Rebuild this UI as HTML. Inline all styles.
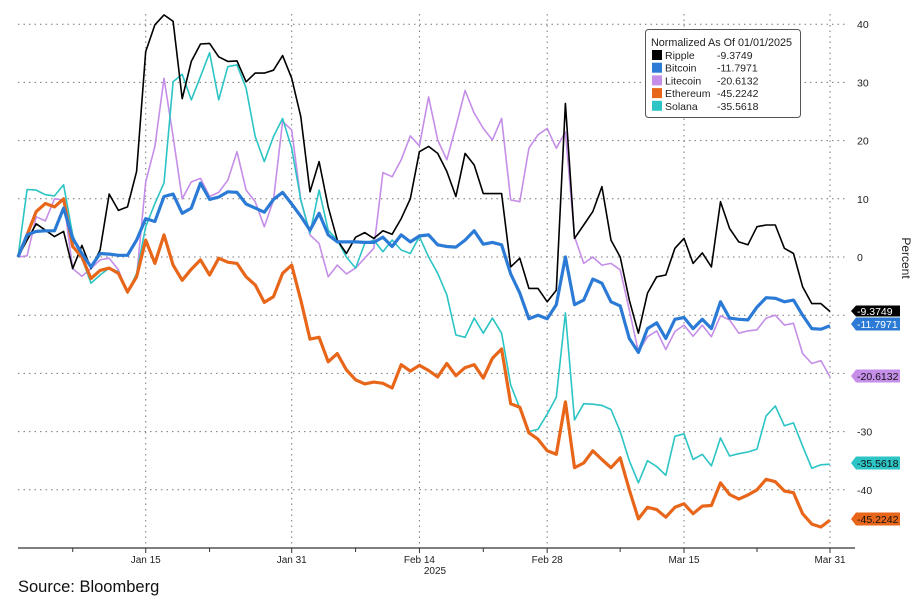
<!DOCTYPE html>
<html><head><meta charset="utf-8"><style>
body{margin:0;background:#fff;width:921px;height:608px;overflow:hidden}
svg{display:block;font-family:"Liberation Sans",sans-serif}
</style></head><body>
<svg width="921" height="608">
<g id="grid"></g>
<g id="series"></g>
<g id="axes"></g>
<g>
<rect x="645.5" y="29.5" width="155" height="88" rx="3" fill="#fff" stroke="#555" stroke-width="1"/>
<text x="651" y="46" font-size="10.8" fill="#222">Normalized As Of 01/01/2025</text>
<g id="legendRows"></g>
</g>
<text x="18" y="592" font-size="16.5" fill="#111">Source: Bloomberg</text>
<text transform="translate(902,258) rotate(90)" font-size="12" fill="#222" text-anchor="middle">Percent</text>
</svg>
<script>
const names=["Ripple","Bitcoin","Litecoin","Ethereum","Solana"];
const colors=["#000000","#2b7bd6","#c58ee8","#e8661a","#2cc4c4"];
const widths=[1.6,3.2,1.6,3.2,1.6];
const lastLabels=["-9.3749","-11.7971","-20.6132","-45.2242","-35.5618"];
const labelY=[311,324,376,519,463];
const yTicks=[40,30,20,10,0,-30,-40];
const yGrid=[40,30,20,10,0,-10,-20,-30,-40];
const xTickDays=[14,30,44,58,73,89];
const xTickLabels=["Jan 15","Jan 31","Feb 14","Feb 28","Mar 15","Mar 31"];
const minorDays=[6,21,37,51,66,81];
const ripple=[0,2.9,5.7,4.6,3.5,4.4,-2,2,-2,1.2,10.8,8,8.6,14.7,35.3,39.9,41.6,40.5,27.2,33.6,36.6,36.7,34.4,33.6,33.7,30.1,31.6,31.6,32.1,34.6,30.7,24.1,11.2,16.4,8.6,2.9,0.6,3.4,4.2,3.2,4.5,3.9,6.6,10,18.1,19,17.8,14.7,10.4,17.8,15.8,10.9,10.9,10.9,-1.7,-0.2,-5.4,-5.4,-7.7,-5.7,26.4,3.2,5.5,7.8,12.1,2.9,0,-7.4,-13.1,-6.2,-3.4,-3.1,1.5,3.2,-1.1,0.7,-1.7,9.5,4.9,2.6,2.1,5.2,5.5,5.5,1.5,0.6,-5.1,-8,-8,-9.37];
const bitcoin=[0,3.8,4.4,4.5,4.5,8.4,3.2,0.6,-1.7,0.6,0.5,0.3,0.3,2.9,6.6,6.1,10.4,10.8,7.5,8.4,12.7,9.9,10.3,11.2,11.1,9.1,8.4,7.7,9.9,11.1,9.1,7,4.6,7.5,3.8,2.6,2.6,2.6,2.5,2.5,3.4,1.8,3.8,2.6,3.6,3.8,2.1,1.8,1.7,2.9,4.5,2.2,2.5,2.1,-2.9,-6.2,-10.6,-10,-10.6,-8.2,0,-8.2,-7.4,-3.8,-4.5,-7.7,-8.4,-14,-16.4,-12.3,-11.3,-14,-10.7,-10.4,-12.3,-10.7,-12.3,-7.7,-10.5,-10.7,-10.8,-8.6,-7,-7.1,-7.7,-7.4,-10,-12.3,-12.4,-11.8];
const litecoin=[0,0.2,6.9,6.2,10,9.8,-2,-3.3,-2,-0.5,-0.2,-2.2,-6.2,-3.4,12.9,19,30.7,20.7,10,12.9,13.5,10.4,11.1,13.2,18.1,11.5,9.5,5.2,9.8,23.3,21.8,9.8,3.8,2.3,-3.4,-1.4,-2.9,-1.9,-0.2,1.5,14.5,13.8,16.7,20.8,19.1,27.5,20.1,16.7,22.4,28.6,24.7,22.1,20.1,23.8,9.8,9.5,18.7,21,22.1,18.7,21.5,3.5,-1.1,0,-1.4,-1.1,-2.2,-9.1,-16.3,-13.7,-12.7,-15.9,-12.8,-11.7,-13.6,-11.7,-13.7,-10.1,-10.8,-13.1,-12.7,-12.5,-10.5,-10,-11.7,-11.4,-16.6,-18.3,-17.8,-20.6];
const ethereum=[0,3.8,7.8,9.2,8.6,10,1.8,0,-3.7,-2.3,-1.9,-2.8,-6,-3.4,2.9,-1.1,3.8,-1.4,-4,-2.1,-0.5,-3.1,-0.2,-0.9,-1.1,-3.4,-4.8,-7.8,-6.8,-2.8,-1.4,-7.4,-14.1,-13.8,-18,-16.6,-19.4,-21.1,-21.8,-21.5,-21.7,-22.5,-18.5,-19.6,-18.6,-19.5,-20.6,-18.3,-20.4,-19,-18.5,-20.8,-17.4,-15.8,-25.2,-25.8,-30.2,-31.3,-33.3,-33.9,-24.9,-36.2,-35.4,-33.3,-34.8,-36.2,-34.5,-40,-45,-43,-43.4,-44.7,-43,-42.4,-44.1,-42.8,-42.7,-38.8,-40.8,-41.6,-40.9,-40,-38.2,-38.6,-40.2,-40.5,-44.1,-45.9,-46.4,-45.2];
const solana=[0,11.6,11.5,10.7,10.5,12.4,3.8,-0.2,-4.5,-3.1,-1.9,-2.5,-6.2,-2.8,5.2,9.2,12.7,30.1,31.4,27,31,35.1,27,32.7,33,29,20.7,16.4,20.7,23.8,18.7,9.8,4.1,11.5,4.6,2.9,0,-1.9,2.3,2.9,0.9,2.9,1.2,0.6,3.5,0,-2.8,-6.5,-13.4,-13.8,-10.5,-13.1,-10.5,-13.1,-22,-26,-30,-29.6,-27,-24.1,-9.6,-28,-25.2,-25.3,-25.5,-26.2,-30,-35,-38.8,-35,-36,-37.5,-30.8,-30.4,-34.8,-33.9,-35.9,-31.1,-34.2,-33.8,-33.5,-33,-27.3,-25.6,-29,-28.5,-32.5,-36.3,-35.7,-35.6];
const allSeries=[ripple,bitcoin,litecoin,ethereum,solana];
const NS="http://www.w3.org/2000/svg";
const X0=18,X1=830,D1=89,Y0=257,PX=5.82;
function xs(d){return X0+(X1-X0)*d/D1;}
function ys(v){return Y0-v*PX;}
function mk(tag,attrs,parent){const e=document.createElementNS(NS,tag);for(const k in attrs)e.setAttribute(k,attrs[k]);parent.appendChild(e);return e;}
const grid=document.getElementById('grid'),ser=document.getElementById('series'),axes=document.getElementById('axes'),lr=document.getElementById('legendRows');
yGrid.forEach(v=>{const l=mk('line',{x1:18,x2:848,y1:ys(v),y2:ys(v),stroke:'#777','stroke-width':1,'stroke-dasharray':'1.5 4'},grid);

});
xTickDays.forEach(d=>{const l=mk('line',{x1:xs(d),x2:xs(d),y1:14,y2:548,stroke:'#777','stroke-width':1,'stroke-dasharray':'1.5 4'},grid);

});
[2,4,0,3,1].forEach(i=>{const pts=allSeries[i].map((v,d)=>xs(d).toFixed(1)+','+ys(v).toFixed(1)).join(' ');
const p=mk('polyline',{points:pts,fill:'none',stroke:colors[i],'stroke-width':widths[i],'stroke-linejoin':'round'},ser);

});
const ax=mk('line',{x1:18,x2:855,y1:548,y2:548,stroke:'#333','stroke-width':1.2},axes);


xTickDays.forEach((d,k)=>{mk('line',{x1:xs(d),x2:xs(d),y1:548,y2:553,stroke:'#333'},axes);
const t=mk('text',{x:xs(d),y:563,'font-size':10,'text-anchor':'middle',fill:'#222'},axes);t.textContent=xTickLabels[k];

});
minorDays.forEach(d=>{mk('line',{x1:xs(d),x2:xs(d),y1:548,y2:552,stroke:'#333'},axes);});
const yr=mk('text',{x:435,y:574,'font-size':10,'text-anchor':'middle',fill:'#222'},axes);yr.textContent='2025';


yTicks.forEach(v=>{const t=mk('text',{x:857,y:ys(v)+4,'font-size':10.5,fill:'#222'},axes);t.textContent=String(v);

});
names.forEach((n,i)=>{const y=labelY[i];const h=i==0?11:13;
const g=mk('g',{},axes);


mk('path',{d:`M851 ${y} L856 ${y-h/2} L900 ${y-h/2} L900 ${y+h/2} L856 ${y+h/2} Z`,fill:colors[i]},g);
const t=mk('text',{x:857,y:y+4,'font-size':10.5,fill:i==0||i==1?'#fff':'#111'},g);t.textContent=lastLabels[i];
const ry=55+i*12.7;
const r=mk('g',{},lr);


mk('rect',{x:652,y:ry-5,width:10,height:10,fill:colors[i]},r);
const a=mk('text',{x:665,y:ry+4,'font-size':10.5,fill:'#222'},r);a.textContent=n;
const b=mk('text',{x:717,y:ry+4,'font-size':10.5,fill:'#222'},r);b.textContent=lastLabels[i];});
</script>
</body></html>
